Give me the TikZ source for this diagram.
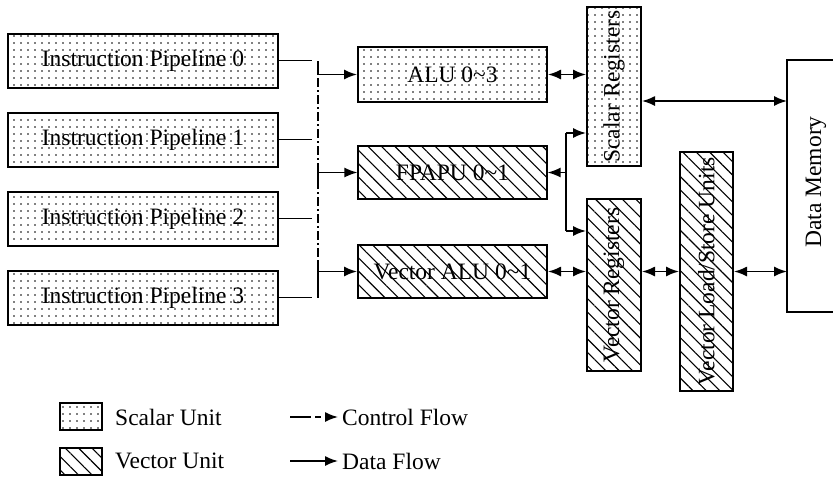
\documentclass[tikz,border=0pt]{standalone}
\usepackage{fontspec}
\setmainfont{Liberation Serif}
\usetikzlibrary{patterns.meta,arrows.meta}
\tikzset{
  unitbox/.style={draw, line width=2pt, inner sep=0pt, font=\fontsize{23.5}{28}\selectfont},
  scalarfill/.style={pattern={Dots[distance=7pt, radius=0.95pt]}},
  vectorfill/.style={pattern={Lines[angle=-45, distance=9.5pt, line width=1.1pt]}},
  txt/.style={inner sep=0pt, font=\fontsize{23.5}{28}\selectfont},
  conn/.style={line width=1.6pt},
  tip/.style={-{Latex[length=13pt,width=10pt]}},
  btip/.style={{Latex[length=13pt,width=10pt]}-{Latex[length=13pt,width=10pt]}},
  ctrl/.style={line width=1.6pt, dash pattern=on 9pt off 3pt on 2pt off 3pt},
}
\begin{document}
\begin{tikzpicture}[x=1pt,y=-1pt]
\useasboundingbox (0,0) rectangle (833,477);
% instruction pipelines
\node[unitbox, scalarfill, minimum width=270, minimum height=54] (ip0) at (143,60.5) {Instruction Pipeline 0};
\node[unitbox, scalarfill, minimum width=270, minimum height=54] (ip1) at (143,139.5) {Instruction Pipeline 1};
\node[unitbox, scalarfill, minimum width=270, minimum height=54] (ip2) at (143,218.5) {Instruction Pipeline 2};
\node[unitbox, scalarfill, minimum width=270, minimum height=54] (ip3) at (143,297.5) {Instruction Pipeline 3};
% functional units
\node[unitbox, scalarfill, minimum width=189, minimum height=55] (alu) at (452.5,74.5) {ALU 0\textasciitilde3};
\node[unitbox, vectorfill, minimum width=189, minimum height=53] (fpu) at (452.5,172.5) {FPAPU 0\textasciitilde1};
\node[unitbox, vectorfill, minimum width=189, minimum height=53] (valu) at (452.5,271.5) {Vector ALU 0\textasciitilde1};
% registers
\node[unitbox, scalarfill, minimum width=54, minimum height=159] (sr) at (614,86.5) {};
\node[txt, rotate=90] (srt) at (sr.center) {Scalar Registers};
\node[unitbox, vectorfill, minimum width=54, minimum height=172] (vr) at (614,285) {};
\node[txt, rotate=90] (vrt) at (vr.center) {Vector Registers};
\node[unitbox, vectorfill, minimum width=53, minimum height=239] (vls) at (706.5,271.5) {};
\node[txt, rotate=90] (vlst) at (vls.center) {Vector Load/Store Units};
% data memory (open to the right)
\coordinate (dmtl) at (787,60);
\coordinate (dmbl) at (787,312);
\coordinate (dmtr) at (840,60);
\coordinate (dmbr) at (840,312);
\draw[line width=1.8pt] (dmtr) -- (dmtl) -- (dmbl) -- (dmbr);
\node[txt, rotate=90] (dmt) at (816,182) {Data Memory};
% control flow
\coordinate (c0) at (312,60.5);
\coordinate (c1) at (312,139.5);
\coordinate (c2) at (312,218.5);
\coordinate (c3) at (312,297.5);
\draw[conn] (ip0.east) -- (c0);
\draw[conn] (ip1.east) -- (c1);
\draw[conn] (ip2.east) -- (c2);
\draw[conn] (ip3.east) -- (c3);
\coordinate (vtop) at (318,61);
\coordinate (vbot) at (318,297.5);
\draw[ctrl] (vtop) -- (vbot);
\coordinate (ka) at (318,74.5);
\coordinate (kb) at (318,172.5);
\coordinate (kc) at (318,271.5);
\draw[conn] (vtop) -- (ka);
\draw[conn] (318,262) -- (vbot);
\draw[conn] (318,163) -- (318,182);
\draw[conn, tip] (ka) -- (alu.west);
\draw[conn, tip] (kb) -- (fpu.west);
\draw[conn, tip] (kc) -- (valu.west);
% data flow
\draw[conn, btip] (alu.east) -- (alu.east -| sr.west);
\coordinate (smy) at (641,101);
\draw[conn, btip] (smy -| sr.east) -- (smy -| dmtl);
\coordinate (ja) at (566,133);
\coordinate (jb) at (566,231);
\coordinate (jc) at (566,172.5);
\draw[conn] (ja) -- (jb);
\draw[conn, tip] (ja) -- (ja -| sr.west);
\draw[conn, tip] (jb) -- (jb -| vr.west);
\draw[conn, tip] (jc) -- (fpu.east);
\draw[conn, btip] (valu.east) -- (valu.east -| vr.west);
\draw[conn, btip] (valu.east -| vr.east) -- (valu.east -| vls.west);
\draw[conn, btip] (valu.east -| vls.east) -- (valu.east -| dmtl);
% legend
\node[unitbox, scalarfill, minimum width=42, minimum height=27] (lgs) at (81,416.5) {};
\node[unitbox, vectorfill, minimum width=42, minimum height=27] (lgv) at (81,461) {};
\node[txt, anchor=west] (lgst) at (115,417) {Scalar Unit};
\node[txt, anchor=west] (lgvt) at (115,461) {Vector Unit};
\coordinate (la0) at (290,417);
\coordinate (la1) at (338,417);
\coordinate (lb0) at (290,461);
\coordinate (lb1) at (338,461);
\draw[conn, tip, dash pattern=on 21pt off 4pt on 6pt off 4pt] (la0) -- (la1);
\draw[conn, tip] (lb0) -- (lb1);
\node[txt, anchor=west] (lct) at (342,417) {Control Flow};
\node[txt, anchor=west] (ldt) at (342,461) {Data Flow};
\end{tikzpicture}
\end{document}
